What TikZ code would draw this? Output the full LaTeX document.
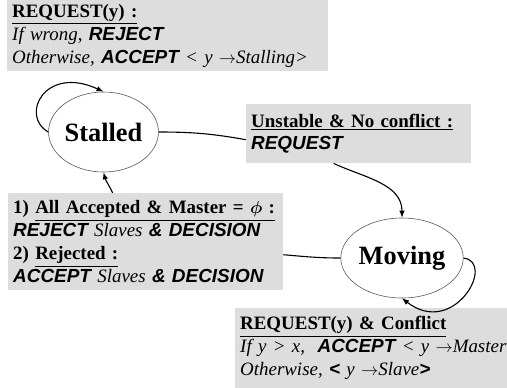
\documentclass[tikz,border=0pt]{standalone}
\usepackage{amsmath}
\usepackage{fontspec}
\setmainfont{Liberation Serif}
\newfontfamily\arialfam{Liberation Sans}
\usetikzlibrary{shapes.geometric, arrows.meta}
\definecolor{boxgray}{RGB}{221,221,221}
\newcommand{\keyw}[1]{{\arialfam\bfseries\itshape #1}}

\begin{document}
\begin{tikzpicture}[
			x=1bp, y=1bp,
			>={Latex[length=7bp,width=5.5bp]},
			state/.style={ellipse, draw=black!65, line width=0.6bp, inner sep=0pt, minimum width=90bp, minimum height=80bp, font=\fontsize{26.5}{30}\selectfont\bfseries},
			note/.style={fill=boxgray, anchor=north west, align=left, inner xsep=5bp, inner ysep=0pt, font=\fontsize{19}{23}\selectfont},
			trans/.style={line width=1.1bp}
			]
			\useasboundingbox (0,0) rectangle (507,-387);
			
			% --- Opisy przejść (szare ramki) ---
			\node[note, text width=311bp, minimum height=71bp] (reqstall) at (7,0) {\underline{\textbf{REQUEST(y) :}}\\
				\textit{If wrong}, \keyw{REJECT}\\
				\mbox{\textit{Otherwise,} \keyw{ACCEPT} \textit{< y $\rightarrow$Stalling>}}};
			\node[note, text width=215bp, minimum height=59bp] (unstable) at (246,-104) {\mbox{\underline{\textbf{Unstable \& No conflict :}}}\\
				\keyw{REQUEST}};
			\node[note, text width=265bp, minimum height=97bp] (decision) at (8,-193) {\mbox{\textbf{1)} \underline{\textbf{All Accepted \& Master = $\boldsymbol{\phi}$ :}}}\\
				\mbox{\keyw{REJECT} \textit{Slaves} \keyw{\& DECISION}}\\
				\textbf{2)} \underline{\textbf{Rejected :}}\\
				\mbox{\keyw{ACCEPT} \textit{Slaves} \keyw{\& DECISION}}};
			\node[note, text width=280bp, minimum height=80bp] (conflict) at (235,-308) {\underline{\textbf{REQUEST(y) \& Conflict}}\\
				\mbox{\textit{If y > x,}\ \ \keyw{ACCEPT} \textit{< y $\rightarrow$Master>}}\\
				\mbox{\textit{Otherwise,} \keyw{<} \textit{y $\rightarrow$Slave}\keyw{>}}};
			
			% --- Stany ---
			\node[state] (stalled) at (103.5,-132) {Stalled};
			\node[state] (moving) at (402,-258) {Moving};
			
			% --- Pętle ---
			\draw[trans, ->] (stalled.west) .. controls +(-29,17) and +(-58,27) .. (stalled.north);
			\draw[trans, ->] (moving.east) .. controls +(33,-4) and +(52,-40) .. (moving.south);
			
			% --- Stalled -> Moving ---
			\draw[trans] (stalled.east) to[out=0, in=170] ([yshift=-6bp]unstable.west);
			\draw[trans, ->] ([xshift=-25bp]unstable.south) to[out=-25, in=90] (moving.north);
			
			% --- Moving -> Stalled ---
			\draw[trans] (moving.west) to[out=180, in=-5] ([yshift=-13bp]decision.east);
			\draw[trans, ->] ([xshift=-33bp]decision.north) to[out=115, in=-75] (stalled.south);
			
		\end{tikzpicture}
\end{document}
